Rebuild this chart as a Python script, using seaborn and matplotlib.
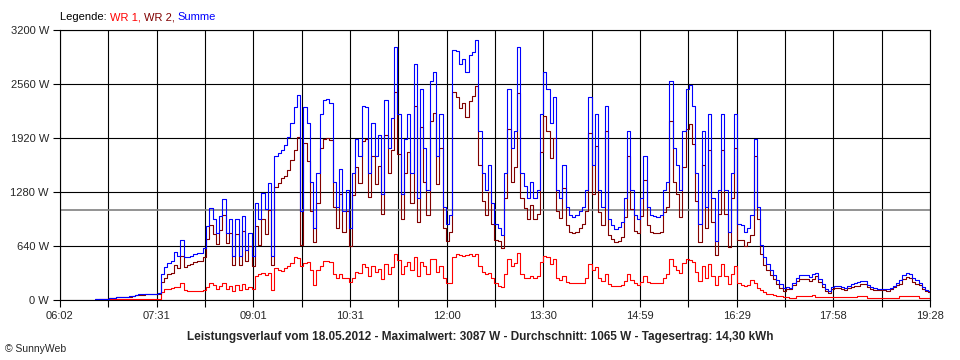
import numpy as np
import pandas as pd
import matplotlib
matplotlib.use("Agg")
import matplotlib.pyplot as plt
import seaborn as sns

# time axis: minutes since midnight, one reading every 3 min (06:34 .. 19:28)
minutes = np.arange(394, 1169, 3)

# WR 1 (W)
wr1 = [0, 0, 1, 1, 1, 2, 2, 2, 3, 3, 3, 4, 4, 5, 5, 5, 6, 6, 6, 7, 8,
       90, 120, 130, 140, 150, 145, 190, 110, 95, 95, 95, 100, 100, 110,
       150, 200, 170, 130, 160, 190, 120, 160, 100, 170, 110, 180, 130, 150, 120,
       280, 300, 310, 290, 320, 110, 370,
       356, 336, 375, 395, 434, 510, 495, 400,
       434, 450, 350, 170, 350, 400, 460, 460, 440, 300, 250, 300, 250, 250, 210,
       260, 330, 320, 420, 380, 280, 400, 330, 360, 240, 420, 300, 380, 540, 470,
       300, 400, 450, 350, 500, 280, 450, 400, 300, 480, 480, 330, 400, 250, 200,
       200, 500, 540, 530, 520, 530, 540, 520, 540, 400, 330, 300, 320, 250, 190,
       160, 150, 300, 480, 400, 430, 550, 300, 260, 250, 280, 250, 280, 450, 520,
       500, 420, 480, 250, 230, 280, 210, 200, 195, 195, 200, 200, 250, 420, 350,
       380, 260, 220, 300, 180, 165, 158, 160, 175, 220, 300, 230, 190, 175, 210,
       280, 210, 200, 195, 195, 200, 260, 300, 480, 400, 350, 320, 430, 480, 470,
       450, 330, 220, 400, 250, 420, 280, 170, 280, 420, 280, 180, 300, 400, 190,
       170, 165, 170, 230, 200, 140, 110, 90, 70, 60, 50, 45, 40, 35, 30,
       20, 22, 45, 47, 47, 47, 47, 55, 35, 28, 28, 28, 28, 28, 28,
       28, 28, 28, 28, 28, 30, 40, 40, 40, 22, 20, 20, 20, 20, 20, 20, 20, 20,
       22, 45, 47, 47, 47, 47, 47, 20, 20, 20, 20]

# WR 2 (W)
wr2 = [5, 6, 8, 9, 10, 14, 20, 24, 26, 25, 28, 34, 42, 50, 55, 58, 60, 62, 60, 62, 64,
       210, 260, 300, 320, 410, 370, 520, 390, 410, 420, 440, 455, 455, 500,
       720, 890, 780, 660, 830, 1000, 670, 790, 415, 780, 405, 810, 460, 640, 395,
       870, 650, 960, 780, 1060, 410, 1330,
       1385, 1445, 1462, 1540, 1660, 1780, 1935, 650,
       1856, 1650, 1050, 680, 1150, 1800, 1910, 1920, 1890, 1100, 850, 1250, 800, 1050, 640,
       1240, 1570, 1380, 1880, 1900, 1220, 1700, 1370, 1590, 1010, 1950, 1500, 1770, 2460, 1730,
       950, 1500, 1750, 1150, 2300, 920, 2050, 1400, 1000, 2120, 2220, 1370, 1800, 850, 700,
       800, 2460, 2410, 2270, 2330, 2170, 2360, 2420, 2540, 1600, 1170, 1000, 1280, 900, 710,
       690, 610, 1200, 2020, 1400, 1570, 2450, 1200, 1090, 950, 1120, 950, 1020, 1750, 2180,
       2000, 1680, 1920, 1050, 970, 1320, 890, 800, 785, 805, 850, 900, 1050, 1980, 1250,
       1820, 1040, 880, 2000, 770, 715, 682, 700, 745, 980, 1700, 1070, 810, 785, 990,
       1420, 890, 800, 795, 785, 800, 1040, 1100, 2120, 1400, 1250, 980, 1570, 2020, 2080,
       1850, 1170, 680, 1600, 850, 1780, 920, 530, 1020, 1780, 1020, 620, 1200, 1800, 710,
       710, 635, 680, 770, 1700, 960, 540, 410, 350, 290, 240, 185, 140, 105, 120,
       120, 178, 215, 243, 249, 238, 218, 245, 275, 212, 152, 102, 72, 122, 137,
       137, 122, 112, 132, 152, 160, 165, 185, 180, 148, 130, 115, 108, 108, 108, 105, 120, 145,
       178, 185, 243, 273, 253, 213, 183, 170, 130, 95, 85]

durchschnitt = 1065  # W, gray line
y_ticks = [0, 640, 1280, 1920, 2560, 3200]
x_labels = ["06:02", "07:31", "09:01", "10:31", "12:00", "13:30",
            "14:59", "16:29", "17:58", "19:28"]

df = pd.DataFrame({"t": minutes, "WR 1": wr1, "WR 2": wr2})
df["Summe"] = df["WR 1"] + df["WR 2"]

sns.set_style("white")
plt.rcParams["font.family"] = ["Liberation Sans", "DejaVu Sans"]

fig = plt.figure(figsize=(9.6, 3.6), dpi=100)
ax = fig.add_axes([60 / 960, 1 - 299.5 / 360, 870 / 960, 269.5 / 360])

sns.lineplot(data=df, x="t", y="WR 1", color="#ff0000", linewidth=0.8,
             drawstyle="steps-mid", ax=ax, zorder=3)
sns.lineplot(data=df, x="t", y="WR 2", color="#800000", linewidth=0.8,
             drawstyle="steps-mid", ax=ax, zorder=4)
sns.lineplot(data=df, x="t", y="Summe", color="#0000ff", linewidth=0.8,
             drawstyle="steps-mid", ax=ax, zorder=5)
ax.axhline(durchschnitt, color="#808080", linewidth=1.2, zorder=2)

ax.set_xlim(362, 1168)
ax.set_ylim(0, 3200)
all_x = np.linspace(362, 1168, 19)
ax.set_xticks(all_x[::2])
ax.set_xticklabels(x_labels, fontsize=8)
ax.set_xticks(all_x[1::2], minor=True)
ax.set_yticks(y_ticks)
ax.set_yticklabels([f"{v} W" for v in y_ticks], fontsize=8)
ax.tick_params(axis="both", which="both", direction="out", length=5,
               width=0.8, color="black", pad=3)
ax.tick_params(axis="x", which="both", bottom=True)
ax.tick_params(axis="y", which="both", left=True)
ax.grid(True, which="both", color="black", linewidth=0.8, zorder=1)
ax.set_axisbelow(True)
for s in ax.spines.values():
    s.set_color("black")
    s.set_linewidth(0.8)
ax.set_xlabel("")
ax.set_ylabel("")

# legend line built from coloured pieces
fig.canvas.draw()
r = fig.canvas.get_renderer()
x0 = 60 / 960
for txt, col in [("Legende: ", "black"), ("WR 1, ", "#ff0000"),
                 ("WR 2, ", "#800000"), ("Summe", "#0000ff")]:
    t = fig.text(x0, 1 - 17 / 360, txt, color=col, fontsize=8, va="center", ha="left")
    bb = t.get_window_extent(renderer=r)
    x0 += bb.width / fig.bbox.width

fig.text(0.5, 1 - 337 / 360,
         "Leistungsverlauf vom 18.05.2012 - Maximalwert: 3087 W - Durchschnitt: 1065 W - Tagesertrag: 14,30 kWh",
         fontsize=8.5, fontweight="bold", ha="center", va="center")
fig.text(5 / 960, 1 - 349 / 360, "© SunnyWeb", fontsize=7.5, ha="left", va="center")

fig.savefig("out.png", dpi=100)
